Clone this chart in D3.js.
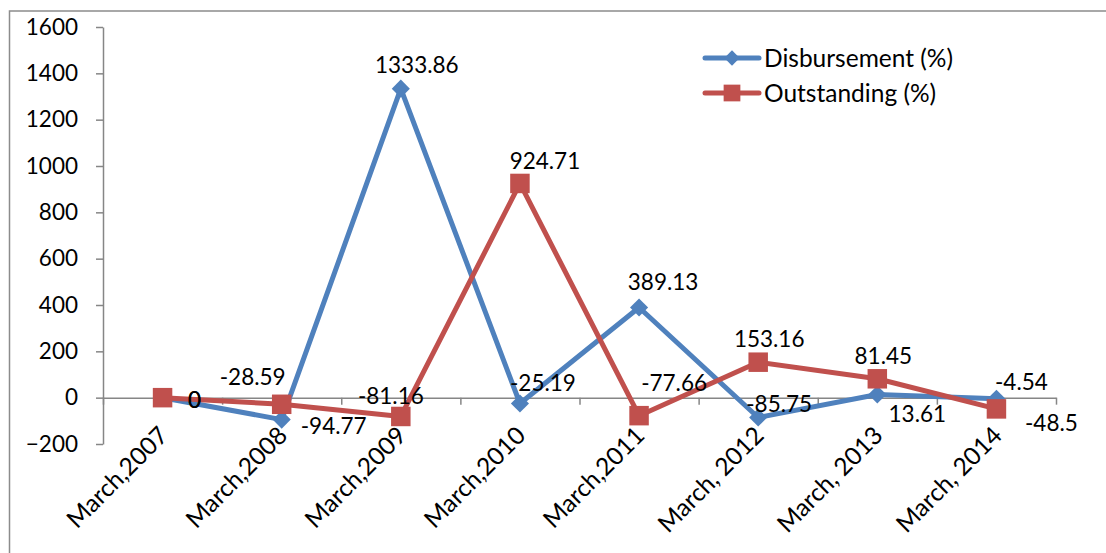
<!DOCTYPE html>
<html>
  <head>
    <meta charset="utf-8">
    <title>Disbursement / Outstanding</title>
    <script type="text/javascript" src="https://d3js.org/d3.v7.min.js"></script>
    <style>
      body { margin:0; background:#fff; }
      text { font-family: Lato, "Open Sans", sans-serif; fill:#000; }
    </style>
  </head>
  <body>
    <svg width="1106" height="553"></svg>
    <script>
      // data
      var categories = ["March,2007","March,2008","March,2009","March,2010","March,2011","March, 2012","March, 2013","March, 2014"];
      var disbursement = [0, -94.77, 1333.86, -25.19, 389.13, -85.75, 13.61, -4.54];
      var outstanding = [0, -28.59, -81.16, 924.71, -77.66, 153.16, 81.45, -48.5];
      var yTicks = [-200, 0, 200, 400, 600, 800, 1000, 1200, 1400, 1600];
      var seriesNames = ["Disbursement (%)", "Outstanding (%)"];

      // where each value label sits relative to its point (as excel placed them)
      var disbLabelOff = [[32,2],[52,7],[16,-24],[23,-20],[24,-25],[21,-13],[40,20],[25,-17]];
      var outLabelOff = [[32,2],[-29,-27],[-10,-20],[25,-22],[35,-33],[11,-23],[6,-23],[55,14]];

      var blue = "#4F81BD", red = "#C0504D", axisCol = "#868686";

      var svg = d3.select("svg");
      var plot = {left:103, right:1056, top:27, bottom:444};

      // outer chart frame (runs off the right and bottom edges)
      svg.append("rect")
        .attr("x",9.5).attr("y",11)
        .attr("width",1200).attr("height",600)
        .attr("fill","none").attr("stroke","#8c8c8c").attr("stroke-width",1.5);

      var x = d3.scaleBand().domain(categories).range([plot.left, plot.right]);
      var xEdge = d3.scaleLinear().domain([0, categories.length]).range([plot.left, plot.right]);
      var y = d3.scaleLinear().domain([-200, 1600]).range([plot.bottom, plot.top]);

      // y axis
      var yAxis = svg.append("g")
        .attr("transform","translate("+plot.left+",0)")
        .call(d3.axisLeft(y).tickValues(yTicks).tickSize(7).tickSizeOuter(0).tickPadding(18).tickFormat(d3.format("d")));
      yAxis.selectAll("text").style("font-size","22.5px").style("font-family","Lato");
      yAxis.selectAll("path,line").attr("stroke",axisCol).attr("stroke-width",1.5);

      // x axis at zero, ticks between categories
      var xAxis = svg.append("g")
        .attr("transform","translate(0,"+y(0)+")")
        .call(d3.axisBottom(xEdge).tickValues(d3.range(0, categories.length+1)).tickSize(7).tickSizeOuter(0).tickFormat(""));
      xAxis.selectAll("path,line").attr("stroke",axisCol).attr("stroke-width",1.5);

      // category labels, rotated
      svg.append("g").selectAll("text")
        .data(categories)
        .enter()
        .append("text")
        .attr("transform",function(d){
          return "translate("+(x(d)+x.bandwidth()/2+7)+",437) rotate(-45)";
        })
        .attr("text-anchor","end")
        .style("font-size","24.5px")
        .text(function(d){ return d; });

      var line = d3.line()
        .x(function(d,i){ return x(categories[i]) + x.bandwidth()/2; })
        .y(function(d){ return y(d); });

      function drawSeries(values, color, shape){
        svg.append("path")
          .datum(values)
          .attr("d", line)
          .attr("fill","none")
          .attr("stroke",color)
          .attr("stroke-width",5)
          .attr("stroke-linejoin","round");
        var sym = shape == "diamond"
          ? d3.symbol().type(d3.symbolDiamond2).size(210)
          : d3.symbol().type(d3.symbolSquare).size(380);
        svg.append("g").selectAll("path")
          .data(values)
          .enter()
          .append("path")
          .attr("d", sym)
          .attr("transform",function(d,i){
            return "translate("+(x(categories[i])+x.bandwidth()/2)+","+y(d)+")";
          })
          .attr("fill",color);
      }

      function drawLabels(values, offs){
        svg.append("g").selectAll("text")
          .data(values)
          .enter()
          .append("text")
          .attr("x",function(d,i){ return x(categories[i]) + x.bandwidth()/2 + offs[i][0]; })
          .attr("y",function(d,i){ return y(d) + offs[i][1]; })
          .attr("dy","0.35em")
          .attr("text-anchor","middle")
          .style("font-size","22.5px")
          .text(function(d){ return String(d); });
      }

      drawSeries(disbursement, blue, "diamond");
      drawSeries(outstanding, red, "square");
      drawLabels(disbursement, disbLabelOff);
      drawLabels(outstanding, outLabelOff);

      // legend
      var legend = svg.append("g");
      var legColors = [blue, red];
      seriesNames.forEach(function(name, i){
        var ly = 58 + i*35;
        legend.append("line")
          .attr("x1",705).attr("x2",759).attr("y1",ly).attr("y2",ly)
          .attr("stroke",legColors[i]).attr("stroke-width",5).attr("stroke-linecap","round");
        legend.append("path")
          .attr("d", i == 0 ? d3.symbol().type(d3.symbolDiamond2).size(150)() : d3.symbol().type(d3.symbolSquare).size(280)())
          .attr("transform","translate(732,"+ly+")")
          .attr("fill",legColors[i]);
        legend.append("text")
          .attr("x",764).attr("y",ly).attr("dy","0.35em")
          .style("font-size","24.5px")
          .text(name);
      });
    </script>
  </body>
</html>
